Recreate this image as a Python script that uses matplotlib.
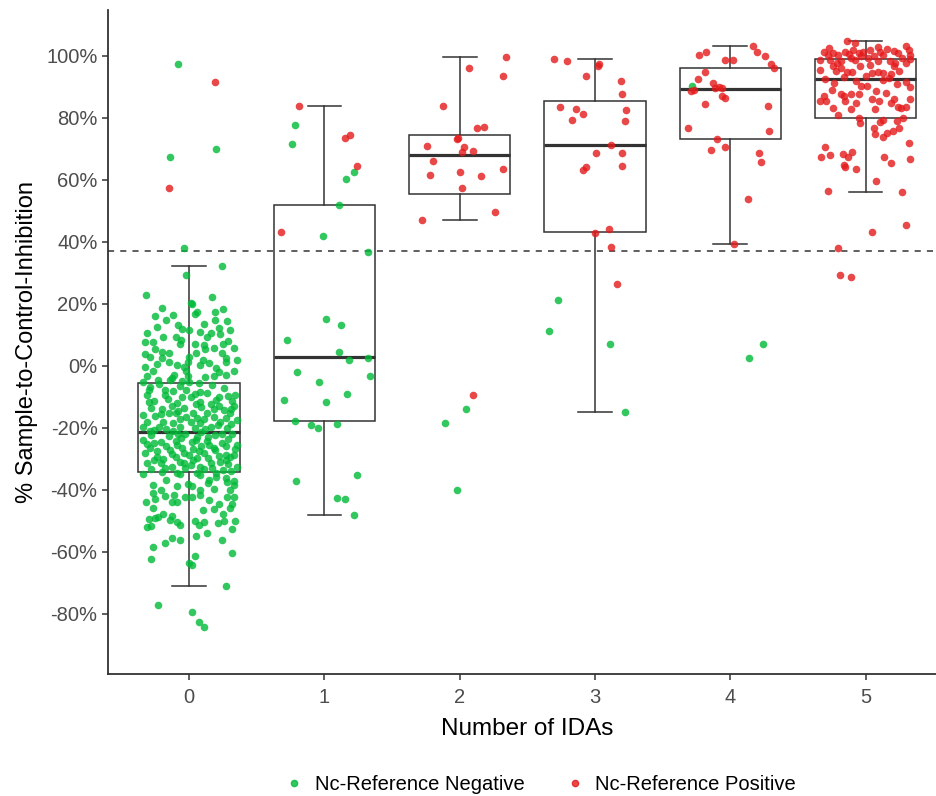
import matplotlib
matplotlib.use("Agg")
import matplotlib.pyplot as plt
from matplotlib.lines import Line2D

plt.rcParams['font.family'] = ['Liberation Sans', 'DejaVu Sans']

categories = [0, 1, 2, 3, 4, 5]
tick_labels = ['0', '1', '2', '3', '4', '5']
y_ticks = [-80, -60, -40, -20, 0, 20, 40, 60, 80, 100]
threshold = 37.1

# box statistics (percent)
whisker_low = [-71.0, -48.2, 47.2, -14.8, 39.4, 56.0]
q1 = [-34.1, -17.8, 55.6, 43.3, 73.2, 79.8]
median = [-21.2, 2.7, 68.1, 71.2, 89.3, 92.4]
q3 = [-5.6, 52.0, 74.5, 85.5, 96.0, 99.0]
whisker_high = [32.3, 83.9, 99.6, 99.1, 103.2, 104.8]

# points: (jitter offset, value %) per group and reference class
g0_neg = [(-0.079, 97.3), (0.202, 70.1), (-0.14, 67.4), (-0.037, 38.0), (0.244, 32.3), (-0.027, 29.2),
    (-0.32, 23.0), (0.17, 22.2), (0.01, 20.4), (0.02, 20.0), (-0.2, 18.7), (0.25, 18.2), (0.06, 17.4),
    (0.04, 16.8), (0.19, 17.3), (-0.25, 16.1), (-0.17, 14.7), (0.19, 14.8), (0.11, 13.5), (-0.08, 13.1),
    (-0.05, 12.0), (0.0, 11.6), (0.22, 12.3), (0.3, 11.6), (-0.31, 10.7), (0.08, 11.0), (0.16, 10.7),
    (0.23, 10.3), (-0.19, 9.3), (-0.1, 9.3), (0.13, 9.3), (-0.33, 7.6), (-0.27, 7.6), (-0.07, 6.9),
    (0.04, 6.9), (0.29, 8.0), (0.11, 6.7), (-0.25, 5.4), (0.12, 5.5), (0.18, 5.9), (0.33, 5.9),
    (-0.33, 3.9), (-0.2, 4.5), (-0.15, 4.3), (0.24, 4.3), (-0.29, 2.8), (-0.2, 2.6), (0.0, 3.0),
    (0.27, 2.6), (0.1, 1.9), (0.35, 1.9), (-0.15, 1.1), (-0.01, 1.3), (0.27, 1.1), (-0.33, -0.4),
    (-0.09, 0.2), (-0.04, -0.4), (0.08, 0.2), (0.2, -0.6), (0.33, -1.5), (-0.27, -1.5), (-0.02, -1.5),
    (-0.31, -3.4), (-0.11, -3.0), (-0.01, -3.4), (0.18, -3.2), (0.27, -2.9), (0.12, -3.6), (-0.34, -5.2),
    (-0.23, -4.5), (-0.14, -4.5), (-0.05, -4.9), (0.0, -5.2), (0.07, -5.6),
    (-0.29, -6.9), (-0.18, -7.7), (-0.07, -6.5), (-0.02, -7.7), (0.08, -8.3), (0.13, -8.8), (0.22, -9.9),
    (0.29, -9.7), (0.34, -9.5), (-0.31, -9.4), (-0.18, -9.5), (-0.05, -9.9), (0.01, -10.1), (0.32, -11.2),
    (-0.26, -11.2), (0.16, -12.3), (-0.09, -12.0), (0.08, -11.5), (-0.28, -13.6), (-0.04, -13.5),
    (0.09, -13.3), (0.22, -13.1), (0.33, -12.9), (-0.15, -15.1), (-0.1, -15.3), (0.03, -15.1),
    (0.13, -15.3), (0.3, -15.1), (-0.34, -15.9), (-0.25, -16.3), (-0.02, -16.5), (0.18, -16.5),
    (-0.31, -18.0), (-0.19, -18.0), (-0.12, -18.3), (0.01, -18.0), (0.08, -18.3), (0.23, -18.0),
    (0.35, -17.4), (-0.34, -19.6), (-0.22, -19.8), (-0.07, -19.6), (0.16, -19.6), (0.28, -20.1),
    (-0.28, -22.3), (-0.15, -22.6), (-0.03, -21.9), (0.06, -22.8), (0.19, -22.4), (0.32, -21.9),
    (-0.34, -23.9), (-0.21, -24.4), (-0.1, -24.1), (0.02, -24.5), (0.13, -24.3), (0.24, -24.9),
    (0.35, -25.5), (-0.29, -26.5), (-0.17, -26.0), (-0.05, -26.5), (0.09, -26.0), (0.18, -26.5),
    (-0.33, -28.2), (-0.13, -28.4), (0.0, -28.7), (0.11, -28.0), (0.27, -28.7), (0.33, -28.7),
    (-0.24, -29.5), (-0.26, -25.0), (-0.09, -25.5), (0.03, -26.8), (0.19, -27.1), (0.3, -29.5),
    (0.34, -26.8), (-0.31, -31.4), (-0.21, -31.4), (-0.13, -32.5), (-0.07, -30.9), (0.01, -31.9),
    (0.08, -32.5), (0.16, -31.4), (0.23, -30.9), (0.35, -32.7), (-0.34, -34.8), (-0.2, -34.1),
    (-0.09, -34.6), (0.06, -34.6), (0.2, -34.4), (-0.26, -30.3), (-0.1, -29.3), (0.14, -29.8),
    (0.27, -30.3), (-0.04, -28.2), (0.06, -29.8),
    (-0.22, -6.0), (0.17, -6.2), (0.26, -7.3), (-0.12, -8.0), (0.04, -9.0), (-0.3, -11.8), (0.2, -11.0),
    (-0.13, -12.8), (0.26, -14.2), (-0.2, -14.0), (0.06, -16.8), (-0.07, -17.0), (0.27, -16.8),
    (0.12, -20.5), (-0.26, -20.6), (0.04, -20.0), (-0.12, -21.0), (0.24, -22.0), (-0.06, -23.3),
    (0.29, -23.6), (-0.24, -27.5), (0.15, -25.5), (0.05, -24.0), (-0.18, -32.9), (0.11, -33.3),
    (0.31, -34.0), (-0.03, -33.0), (0.25, -33.6),
    (-0.3, -7.8), (-0.16, -10.6), (0.05, -12.4), (0.18, -14.0), (-0.08, -14.4), (0.31, -13.9),
    (-0.21, -15.6), (0.11, -17.2), (-0.29, -20.9), (0.21, -19.2), (-0.17, -20.3), (0.09, -21.2),
    (0.31, -18.9), (-0.08, -22.0), (0.14, -23.1), (-0.31, -25.3), (0.27, -26.0), (-0.14, -27.0),
    (0.07, -27.6), (0.22, -29.0), (-0.19, -30.0), (0.03, -30.5), (0.29, -31.8), (-0.28, -33.2),
    (-0.04, -31.3), (0.17, -33.0), (-0.13, -4.0), (0.22, -1.9), (-0.24, 0.6), (0.15, 0.9),
    (0.05, 4.1), (-0.06, 8.5), (0.25, 7.0), (-0.24, 12.4), (0.28, 14.5), (-0.12, 16.5),
    (-0.17, -36.7), (-0.07, -35.0), (0.08, -35.3), (0.15, -36.8), (0.2, -35.8), (0.27, -36.3), (0.33, -38.5),
    (-0.27, -38.4), (-0.21, -40.0), (-0.27, -40.9), (-0.09, -38.9), (-0.01, -38.1), (0.02, -38.9),
    (0.08, -40.0), (0.14, -37.8), (0.18, -39.8), (0.28, -37.6), (0.33, -37.3), (0.3, -40.0),
    (-0.18, -41.9), (-0.11, -41.6), (-0.03, -42.4), (0.02, -42.4), (0.08, -41.6), (0.28, -42.4),
    (0.33, -42.4), (-0.32, -43.8), (-0.25, -43.0), (-0.13, -43.8), (-0.09, -43.8), (0.15, -43.2),
    (0.22, -44.5), (0.32, -44.5), (-0.27, -45.9), (0.1, -46.5), (0.18, -46.1), (0.3, -45.9),
    (-0.19, -47.7), (-0.13, -48.4), (0.25, -47.7), (-0.3, -49.5), (-0.25, -49.1), (-0.23, -48.6),
    (-0.14, -49.7), (-0.09, -50.5), (0.04, -50.2), (0.11, -50.3), (0.21, -50.7), (0.26, -50.2),
    (0.34, -49.9), (-0.31, -52.0), (-0.28, -51.6), (-0.07, -51.3), (0.07, -51.3), (0.32, -52.7),
    (0.13, -54.0), (0.05, -54.8), (-0.13, -55.6), (-0.07, -56.1), (-0.18, -57.0), (0.24, -56.1),
    (-0.27, -58.3), (0.32, -60.4), (-0.28, -62.2), (0.04, -61.3), (0.0, -63.6), (0.02, -64.2),
    (0.27, -71.0), (-0.23, -77.2), (0.02, -79.4), (0.07, -82.5), (0.11, -84.2)]
g0_pos = [(0.192, 91.6), (-0.15, 57.3)]

g1_neg = [(-0.22, 77.6), (-0.24, 71.5), (0.22, 62.6), (0.16, 60.4), (0.11, 52.0), (-0.01, 41.9),
    (0.32, 36.7), (0.01, 15.2), (0.12, 13.3), (-0.28, 8.2), (0.11, 4.6), (0.18, 1.9), (0.32, 2.4),
    (-0.2, -2.0), (0.34, -3.3), (-0.04, -5.2), (-0.3, -10.9), (0.17, -9.0), (0.01, -11.7),
    (-0.22, -17.8), (-0.1, -19.1), (-0.05, -20.1), (0.09, -18.7), (0.24, -35.1), (-0.21, -37.2),
    (0.09, -42.5), (0.15, -42.9), (0.22, -48.2)]
g1_pos = [(-0.19, 83.9), (0.15, 73.6), (0.19, 74.5), (0.24, 64.4), (-0.32, 43.2)]

g2_neg = [(0.05, -13.9), (-0.11, -18.3), (-0.02, -40.2)]
g2_pos = [(0.34, 99.6), (0.07, 96.0), (0.32, 93.4), (-0.12, 83.8), (0.13, 76.7), (0.18, 77.1),
    (-0.02, 73.2), (-0.01, 73.6), (-0.24, 71.0), (0.03, 70.6), (0.02, 69.1), (0.1, 69.2),
    (-0.2, 66.1), (-0.22, 61.7), (0.0, 62.6), (0.16, 61.4), (0.32, 63.5), (0.02, 57.3),
    (0.26, 49.5), (-0.28, 47.2), (0.1, -9.5)]

g3_neg = [(-0.27, 21.3), (-0.34, 11.2), (0.11, 7.2), (0.22, -14.8)]
g3_pos = [(-0.3, 99.1), (-0.21, 98.2), (0.02, 96.7), (0.03, 97.4), (-0.07, 93.4), (0.19, 91.8),
    (0.2, 87.7), (-0.26, 83.4), (-0.14, 82.9), (-0.09, 81.2), (-0.17, 79.4), (0.23, 82.6),
    (0.22, 78.9), (0.12, 71.1), (0.01, 68.8), (0.2, 68.8), (-0.07, 64.1), (-0.09, 63.2),
    (0.2, 64.5), (0.1, 44.2), (0.0, 42.9), (0.12, 38.4), (0.16, 26.5)]

g4_neg = [(-0.28, 90.4), (0.24, 7.2), (0.14, 2.4)]
g4_pos = [(0.17, 103.2), (0.2, 101.3), (0.26, 100.0), (-0.23, 100.4), (-0.18, 101.3), (-0.04, 98.7),
    (0.02, 98.7), (0.3, 97.4), (0.32, 96.0), (-0.19, 94.8), (-0.24, 92.6), (-0.29, 88.6),
    (-0.27, 89.0), (-0.13, 91.3), (-0.11, 89.5), (-0.08, 90.0), (-0.06, 89.5), (-0.06, 86.9),
    (-0.04, 86.4), (-0.19, 84.6), (0.28, 83.8), (-0.31, 76.8), (0.29, 75.9), (-0.1, 73.2),
    (-0.14, 69.7), (-0.04, 70.5), (0.21, 68.8), (0.23, 65.7), (0.13, 53.9), (0.03, 39.4)]

g5_neg = []
g5_pos = [(-0.14, 104.8), (-0.08, 104.3), (-0.31, 101.4), (-0.27, 102.5), (-0.24, 100.9), (-0.2, 100.3),
    (-0.15, 101.4), (-0.09, 101.9), (-0.05, 100.9), (-0.02, 101.4), (0.03, 101.9), (0.09, 103.0),
    (0.11, 101.4), (0.13, 100.3), (0.21, 101.7), (0.24, 100.9), (0.3, 103.2), (0.32, 101.9),
    (0.33, 100.3), (-0.34, 98.7), (-0.26, 98.7), (-0.21, 97.6), (-0.18, 98.2), (-0.11, 99.3),
    (-0.08, 98.7), (-0.03, 99.8), (0.02, 99.3), (0.09, 98.2), (0.18, 98.2), (0.22, 97.6),
    (0.3, 97.6), (0.33, 98.9), (-0.34, 95.5), (-0.24, 96.8), (-0.18, 96.0), (-0.14, 94.9),
    (-0.1, 94.9), (-0.04, 96.8), (-0.16, 93.3), (0.0, 93.5), (0.05, 94.6), (0.09, 94.9),
    (0.13, 94.6), (0.19, 94.2), (0.21, 96.8), (0.17, 92.8), (0.13, 92.3), (0.3, 91.7),
    (0.33, 89.9), (-0.23, 91.4), (-0.25, 89.0), (-0.03, 90.3), (0.01, 90.3), (0.08, 88.7),
    (-0.05, 87.8), (-0.11, 87.6), (-0.18, 87.6), (-0.16, 86.9), (-0.31, 86.9), (-0.34, 85.5),
    (-0.29, 85.6), (-0.15, 85.3), (-0.07, 84.7), (0.1, 85.3), (0.19, 84.7), (0.21, 86.0),
    (0.24, 83.6), (0.26, 83.1), (0.3, 83.5), (0.33, 86.0), (0.07, 82.9), (-0.11, 82.9),
    (-0.2, 81.0), (-0.05, 79.9), (-0.04, 78.5), (0.11, 78.8), (0.13, 79.4), (0.23, 79.0),
    (0.06, 76.7), (0.07, 74.8), (0.13, 73.9), (0.16, 75.0), (0.2, 75.9), (0.25, 76.7),
    (0.32, 71.8), (-0.3, 70.5), (-0.33, 67.5), (-0.26, 68.0), (-0.17, 68.4), (-0.13, 67.5),
    (-0.1, 69.1), (-0.16, 64.8), (-0.15, 64.0), (-0.07, 63.5), (0.08, 59.6), (-0.28, 56.5),
    (0.14, 67.5), (0.19, 65.3), (0.33, 66.6), (0.27, 56.0), (0.3, 45.5), (0.05, 43.3),
    (-0.2, 38.0), (-0.19, 29.3), (-0.11, 28.8),
    (-0.28, 100.2), (-0.12, 100.6), (0.06, 100.1), (0.16, 102.2), (0.27, 99.4), (-0.22, 95.0),
    (0.03, 97.0), (0.25, 95.2), (-0.3, 92.5), (-0.07, 92.0), (0.23, 90.8), (0.05, 86.0),
    (-0.24, 83.2), (0.15, 88.0), (0.28, 80.0)]

neg_groups = [g0_neg, g1_neg, g2_neg, g3_neg, g4_neg, g5_neg]
pos_groups = [g0_pos, g1_pos, g2_pos, g3_pos, g4_pos, g5_pos]

neg_color = '#00BA38'
pos_color = '#E41A1C'
line_color = '#333333'

fig = plt.figure(figsize=(9.36, 7.96), dpi=100)
ax = fig.add_axes([108 / 936, 1 - 674 / 796, (946.7 - 108) / 936, (674 - 10) / 796])

stats = []
for i in range(len(categories)):
    stats.append(dict(med=median[i], q1=q1[i], q3=q3[i],
                      whislo=whisker_low[i], whishi=whisker_high[i], fliers=[]))
ax.bxp(stats, positions=categories, widths=0.75, capwidths=0.25, showfliers=False,
       patch_artist=True,
       boxprops=dict(facecolor='white', edgecolor=line_color, linewidth=1.1),
       whiskerprops=dict(color=line_color, linewidth=1.1),
       capprops=dict(color=line_color, linewidth=1.1),
       medianprops=dict(color=line_color, linewidth=2.3),
       manage_ticks=False, zorder=2)

ax.axhline(threshold, color=line_color, linestyle=(0, (4, 4)), linewidth=1.1, zorder=2.5)

for cat, grp in zip(categories, neg_groups):
    if grp:
        ax.scatter([cat + d for d, _ in grp], [v for _, v in grp], s=30, color=neg_color,
                   alpha=0.8, linewidths=0, zorder=3)
for cat, grp in zip(categories, pos_groups):
    if grp:
        ax.scatter([cat + d for d, _ in grp], [v for _, v in grp], s=30, color=pos_color,
                   alpha=0.8, linewidths=0, zorder=3)

ax.set_xlim(-0.6, 5.6)
ax.set_ylim(-99.4, 114.8)
ax.set_xticks(categories)
ax.set_xticklabels(tick_labels)
ax.set_yticks(y_ticks)
ax.set_yticklabels([f'{t}%' for t in y_ticks])
for s in ['top', 'right']:
    ax.spines[s].set_visible(False)
for s in ['left', 'bottom']:
    ax.spines[s].set_color(line_color)
    ax.spines[s].set_linewidth(1.3)
ax.tick_params(axis='both', colors=line_color, length=4, width=1.1, labelsize=14.5,
               labelcolor='#4D4D4D')
ax.tick_params(axis='x', pad=6)
ax.set_xlabel('Number of IDAs', fontsize=17.5, color='black', labelpad=8)
ax.set_ylabel('% Sample-to-Control-Inhibition', fontsize=17, color='black', labelpad=6)

handles = [Line2D([], [], linestyle='none', marker='o', markersize=4.5, color=neg_color, alpha=0.8),
           Line2D([], [], linestyle='none', marker='o', markersize=4.5, color=pos_color, alpha=0.8)]
fig.legend(handles, ['Nc-Reference Negative', 'Nc-Reference Positive'], loc='center',
           bbox_to_anchor=(540 / 936, 1 - 785 / 796), ncol=2, frameon=False, fontsize=14.5,
           handletextpad=0.5, columnspacing=2.0, handlelength=1.0)

fig.savefig('out.png', dpi=100)
